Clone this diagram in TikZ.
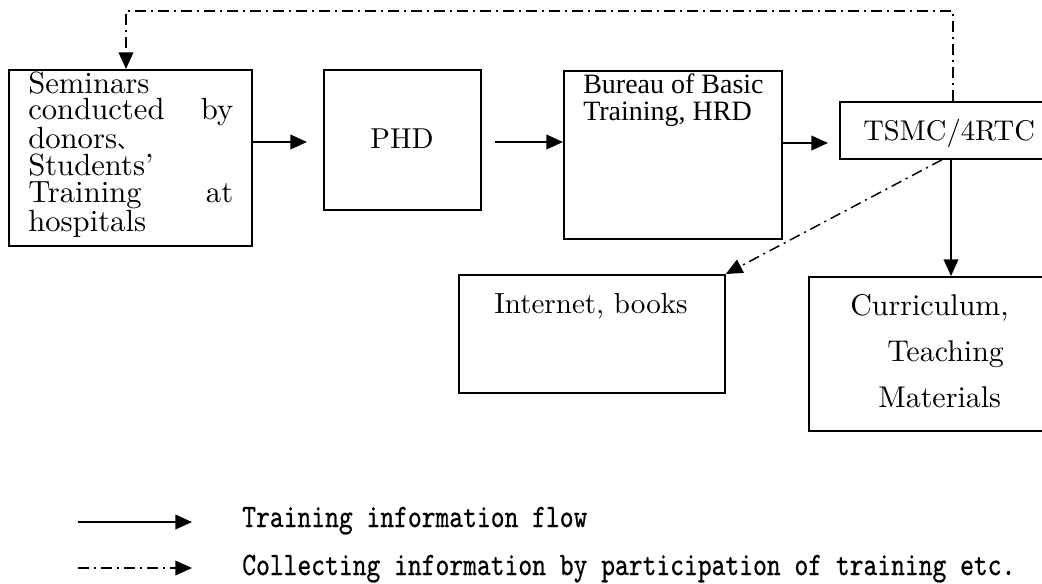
\documentclass[tikz,border=0pt]{standalone}
\usepackage{fontspec}
\newfontfamily\timesfont{Liberation Serif}
\newfontfamily\wideroman[Ligatures=TeX]{lmroman10-regular.otf}
\newfontfamily\keyfont[FakeStretch=0.805,FakeBold=0.6]{lmmono10-regular.otf}
\newfontfamily\cjkfont{Noto Sans CJK JP}
\usetikzlibrary{arrows.meta}

\begin{document}
\begin{tikzpicture}[x=0.75pt,y=-0.75pt,
  box/.style={draw, line width=1.3pt, rectangle, inner sep=0pt, anchor=north west},
  txt/.style={inner sep=0pt, anchor=base west},
  ctxt/.style={inner sep=0pt, anchor=base},
  flow/.style={line width=1.3pt, -{Triangle[length=12.5pt,width=11pt]}},
  collect/.style={line width=1.1pt, dash pattern=on 8.25pt off 3.75pt on 1.5pt off 3.75pt,
                  -{Triangle[length=12.5pt,width=11pt]}},
  ]
\useasboundingbox (0,0) rectangle (1042,583);
\clip (0,0) rectangle (1042,583);

% boxes
\node[box, minimum width=182.25pt, minimum height=132pt] (sem) at (8,69) {};
\node[box, minimum width=117.75pt, minimum height=105pt] (phd) at (323,69) {};
\node[box, minimum width=163.5pt, minimum height=126pt] (bur) at (563,70) {};
\node[box, minimum width=157.5pt, minimum height=42.75pt] (tsmc) at (839,101) {};
\node[box, minimum width=199.5pt, minimum height=88.5pt] (net) at (458,274) {};
\node[box, minimum width=180pt, minimum height=115.5pt] (cur) at (808,276) {};

% box texts
\node[txt] (sem-t) at (28,93.3) {\parbox[t]{153.75pt}{\wideroman\fontsize{23pt}{20pt}\selectfont
  Seminars\\ conducted\hfill by\\ donors{\cjkfont\fontsize{16pt}{20pt}\selectfont 、}\\ Students’\\ Training\hfill at\\ hospitals}};
\node[ctxt] (phd-t) at (402,148) {\wideroman\fontsize{21.6pt}{24pt}\selectfont PHD};
\node[txt] (bur-t) at (583,93) {\parbox[t]{170pt}{\timesfont\fontsize{21pt}{20.25pt}\selectfont
  Bureau of Basic\\ Training, HRD}};
\node[txt] (tsmc-t) at (863,140) {\wideroman\fontsize{21.4pt}{24pt}\selectfont TSMC/4RTC};
\node[ctxt] (net-t) at (591,313) {\wideroman\fontsize{21.8pt}{24pt}\selectfont Internet, books};
\node[txt] (cur-t) at (850,315) {\parbox[t]{170pt}{\wideroman\fontsize{22.5pt}{34.5pt}\selectfont
  Curriculum,\\ \hspace*{27.75pt}Teaching\\ \hspace*{21pt}Materials}};

% training information flow
\coordinate (st) at ([yshift=-54.75pt]sem.north east);
\draw[flow, shorten >=12pt] (st) -- (st -| phd.west);
\coordinate (pt) at ([yshift=-54.75pt]phd.north east);
\draw[flow, shorten <=9.75pt] (pt) -- (pt -| bur.west);
\coordinate (bt) at ([yshift=-54.75pt]bur.north east);
\draw[flow, shorten >=8.25pt] (bt) -- (bt -| tsmc.west);
\coordinate (tb) at ([xshift=84pt]tsmc.south west);
\draw[flow] (tb) -- (tb |- cur.north);

% collecting information
\coordinate (tt) at ([xshift=85.5pt]tsmc.north west);
\coordinate (sn) at ([xshift=88.5pt]sem.north west);
\draw[collect] (tt) -- ++(0,-90) -| (sn);
\coordinate (td) at ([xshift=77.25pt]tsmc.south west);
\draw[collect] (td) -- (net.north east);

% key
\coordinate (k1a) at (78,522);
\coordinate (k1b) at (192,522);
\draw[flow] (k1a) -- (k1b);
\node[txt] (k1-t) at (242,527) {\keyfont\fontsize{24.5pt}{25pt}\selectfont Training information flow};
\coordinate (k2a) at (78,568);
\coordinate (k2b) at (192,568);
\draw[collect] (k2a) -- (k2b);
\node[txt] (k2-t) at (242,575) {\keyfont\fontsize{24.5pt}{25pt}\selectfont Collecting information by participation of training etc.};
\end{tikzpicture}
\end{document}
